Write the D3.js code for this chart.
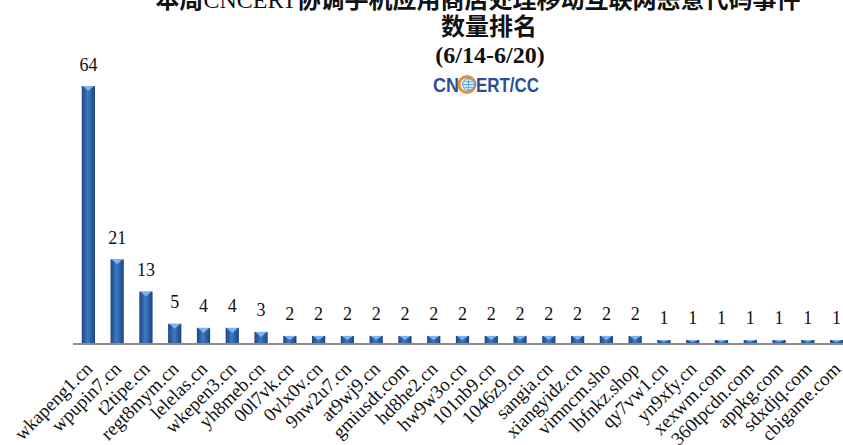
<html>
<head>
    <meta charset="utf-8">
    <script src="https://d3js.org/d3.v7.min.js"></script>
    <style>
        body { margin: 0; background: #fff; }
        .val { font-family: "Liberation Serif", "Times New Roman", serif; font-size: 18px; fill: #111; }
        .xlab { font-family: "Liberation Serif", "Times New Roman", serif; font-size: 19px; fill: #111; }
        .title { font-family: "Liberation Serif", "Noto Sans CJK SC", serif; font-weight: bold; fill: #111; }
    </style>
</head>
<body>
    <svg id="plot" width="843" height="445"></svg>
    <script>
        const categories = ["wkapeng1.cn", "wpupin7.cn", "t2tipe.cn", "regt8mym.cn", "lelelas.cn", "wkepen3.cn",
            "yh8meb.cn", "00l7vk.cn", "0vlx0v.cn", "9nw2u7.cn", "at9wj9.cn", "gmiusdt.com", "hd8he2.cn",
            "hw9w3o.cn", "101nb9.cn", "1046z9.cn", "sangia.cn", "xiangyidz.cn", "vimncm.sho", "lbfnkz.shop",
            "qy7vw1.cn", "yn9xfy.cn", "xexwm.com", "360tpcdn.com", "appkg.com", "sdxdjq.com", "cbigame.com"];
        const counts = [64, 21, 13, 5, 4, 4, 3, 2, 2, 2, 2, 2, 2, 2, 2, 2, 2, 2, 2, 2, 1, 1, 1, 1, 1, 1, 1];
        const titleLines = ["本周CNCERT协调手机应用商店处理移动互联网恶意代码事件", "数量排名", "(6/14-6/20)"];

        const svg = d3.select("#plot");
        const width = +svg.attr("width");
        const baseY = 344;

        const x = d3.scaleBand()
            .domain(categories)
            .range([74, 851])
            .paddingInner(0.54)
            .paddingOuter(0.27);

        const y = d3.scaleLinear()
            .domain([0, 64])
            .range([baseY, 86]);

        // bar gradient (cylinder look)
        const defs = svg.append("defs");
        const grad = defs.append("linearGradient").attr("id", "barGrad")
            .attr("x1", "0%").attr("x2", "100%").attr("y1", "0%").attr("y2", "0%");
        grad.append("stop").attr("offset", "0%").attr("stop-color", "#1c4682");
        grad.append("stop").attr("offset", "45%").attr("stop-color", "#3f78c2");
        grad.append("stop").attr("offset", "100%").attr("stop-color", "#1b4580");

        // title (first line is cut by the top edge, as in the original)
        const t1 = svg.append("text").attr("class", "title")
            .attr("x", 478).attr("y", 8)
            .attr("text-anchor", "middle")
            .attr("font-size", 24);
        t1.append("tspan").text(titleLines[0].slice(0, 2));
        t1.append("tspan").attr("font-weight", "normal").text(titleLines[0].slice(2, 8));
        t1.append("tspan").text(titleLines[0].slice(8));

        svg.append("text").attr("class", "title")
            .attr("x", 489).attr("y", 35)
            .attr("text-anchor", "middle")
            .attr("font-size", 24)
            .text(titleLines[1]);
        svg.append("text").attr("class", "title")
            .attr("x", 490).attr("y", 63)
            .attr("text-anchor", "middle")
            .attr("font-size", 24)
            .text(titleLines[2]);

        // logo
        const logo = svg.append("g");
        logo.append("text")
            .attr("x", 433).attr("y", 92)
            .attr("font-family", "Liberation Sans, Arial, sans-serif")
            .attr("font-weight", "bold").attr("font-size", 21)
            .attr("fill", "#2b4f9a")
            .attr("textLength", 26).attr("lengthAdjust", "spacingAndGlyphs")
            .text("CN");
        logo.append("circle").attr("cx", 467).attr("cy", 84.5).attr("r", 8)
            .attr("fill", "none").attr("stroke", "#f0902a").attr("stroke-width", 3);
        logo.append("circle").attr("cx", 468.5).attr("cy", 84.5).attr("r", 6)
            .attr("fill", "#d4ebf9").attr("stroke", "#4a9ad6").attr("stroke-width", 1);
        logo.append("path").attr("d", "M462.5,84.5 H474.5 M468.5,78.5 V90.5 M464,81 Q468.5,83 473,81 M464,88 Q468.5,86 473,88")
            .attr("fill", "none")
            .attr("stroke", "#4a9ad6").attr("stroke-width", 0.8);
        logo.append("text")
            .attr("x", 476).attr("y", 92)
            .attr("font-family", "Liberation Sans, Arial, sans-serif")
            .attr("font-weight", "bold").attr("font-size", 21)
            .attr("fill", "#2b4f9a")
            .attr("textLength", 63).attr("lengthAdjust", "spacingAndGlyphs")
            .text("ERT/CC");

        // axis line
        svg.append("line")
            .attr("x1", 73).attr("x2", width)
            .attr("y1", baseY).attr("y2", baseY)
            .attr("stroke", "#8c8c8c").attr("stroke-width", 2);

        // bars
        const bars = svg.append("g");
        bars.selectAll("rect").data(counts)
            .join("rect")
            .attr("x", (d, i) => x(categories[i]))
            .attr("y", d => y(d))
            .attr("width", x.bandwidth())
            .attr("height", d => baseY - 1 - y(d))
            .attr("fill", "url(#barGrad)");

        // top caps
        bars.selectAll("path.cap").data(counts)
            .join("path")
            .attr("class", "cap")
            .attr("d", (d, i) => {
                const x0 = x(categories[i]);
                const w = x.bandwidth();
                const t = y(d);
                const h = Math.min(5, (baseY - t) * 0.5);
                return "M" + (x0 + 1) + "," + t + "L" + (x0 + w - 1) + "," + t + "L" + (x0 + w / 2) + "," + (t + h) + "Z";
            })
            .attr("fill", "#7db4ef");

        // value labels
        svg.selectAll("text.val").data(counts)
            .join("text")
            .attr("class", "val")
            .attr("x", (d, i) => x(categories[i]) + x.bandwidth() / 2)
            .attr("y", d => y(d) - 15.5)
            .attr("text-anchor", "middle")
            .text(d => d);

        // x labels
        svg.selectAll("text.xlab").data(categories)
            .join("text")
            .attr("class", "xlab")
            .attr("text-anchor", "end")
            .attr("transform", d => "translate(" + (x(d) + x.bandwidth() / 2 + 5) + "," + (baseY + 26) + ") rotate(-45)")
            .text(d => d);
    </script>
</body>
</html>
